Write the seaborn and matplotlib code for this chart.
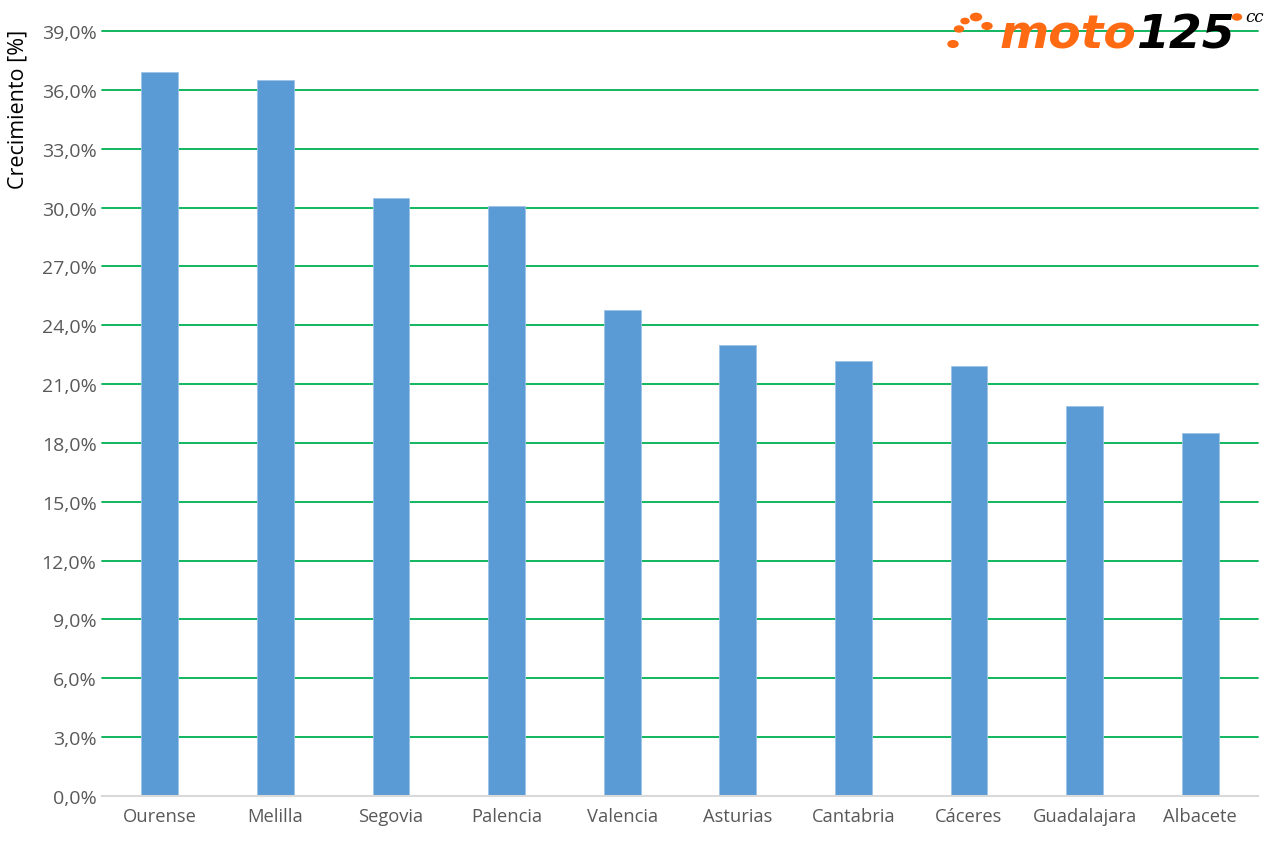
import pandas as pd
import seaborn as sns
import matplotlib.pyplot as plt
from matplotlib.ticker import FuncFormatter, MultipleLocator
from matplotlib.patches import Circle

provincias = ['Ourense', 'Melilla', 'Segovia', 'Palencia', 'Valencia',
              'Asturias', 'Cantabria', 'Cáceres', 'Guadalajara', 'Albacete']
crecimiento = [36.9, 36.5, 30.5, 30.1, 24.8, 23.0, 22.2, 21.9, 19.9, 18.5]

df = pd.DataFrame({'provincia': provincias, 'crecimiento': crecimiento})

sns.set_style('white')
plt.rcParams['font.family'] = ['Open Sans', 'DejaVu Sans']

fig = plt.figure(figsize=(12.8, 8.53), dpi=100)
ax = fig.add_axes([102 / 1280, 1 - 797 / 853, 1156 / 1280, 765 / 853])

sns.barplot(data=df, x='provincia', y='crecimiento', color='#5B9BD5',
            saturation=1, width=0.32, edgecolor='#9DC3E6', linewidth=0.6,
            ax=ax, zorder=3)

ax.set_ylim(0, 39)
ax.set_xlim(-0.5, len(provincias) - 0.5)
ax.yaxis.set_major_locator(MultipleLocator(3))
ax.yaxis.set_major_formatter(FuncFormatter(lambda v, p: f'{v:.1f}%'.replace('.', ',')))
ax.grid(axis='y', color='#00B050', linewidth=1.3, zorder=0)
for gl in ax.get_ygridlines():
    gl.set_clip_on(False)
ax.set_axisbelow(True)

for s in ['top', 'right', 'left']:
    ax.spines[s].set_visible(False)
ax.spines['bottom'].set_color('#D9D9D9')
ax.spines['bottom'].set_linewidth(1.5)
ax.spines['bottom'].set_zorder(4)

ax.tick_params(axis='both', length=0, colors='#595959')
ax.tick_params(axis='y', labelsize=14, pad=4)
ax.tick_params(axis='x', labelsize=13.2, pad=8)
ax.set_xlabel('')
ax.set_ylabel('')
fig.text(18 / 1280, 1 - 109 / 853, 'Crecimiento [%]', rotation=90, fontsize=15.5,
         color='black', ha='center', va='center')

# logo
rend = fig.canvas.get_renderer()
t1 = fig.text(1000 / 1280, 1 - 36 / 853, 'moto', color='#FF6A13', fontsize=34,
              fontweight='bold', fontstyle='italic', ha='left', va='center',
              family='DejaVu Sans')
bb = t1.get_window_extent(rend)
fig.text(bb.x1 / 1280, 1 - 36 / 853, '125', color='black', fontsize=34,
         fontweight='bold', fontstyle='italic', ha='left', va='center',
         family='DejaVu Sans')
fig.text(1245 / 1280, 1 - 18 / 853, 'cc', color='black', fontsize=12,
         fontstyle='italic', ha='left', va='center', family='DejaVu Serif')
for cx, cy, r in [(953, 45, 5), (959, 30, 4.5), (965, 22, 4), (976, 18, 5.5), (987, 27, 5), (1237, 18, 4.5)]:
    fig.patches.append(Circle((cx / 1280, 1 - cy / 853), r / 1280,
                              transform=fig.transFigure, color='#FF6A13'))

fig.savefig('out.png', dpi=100)
